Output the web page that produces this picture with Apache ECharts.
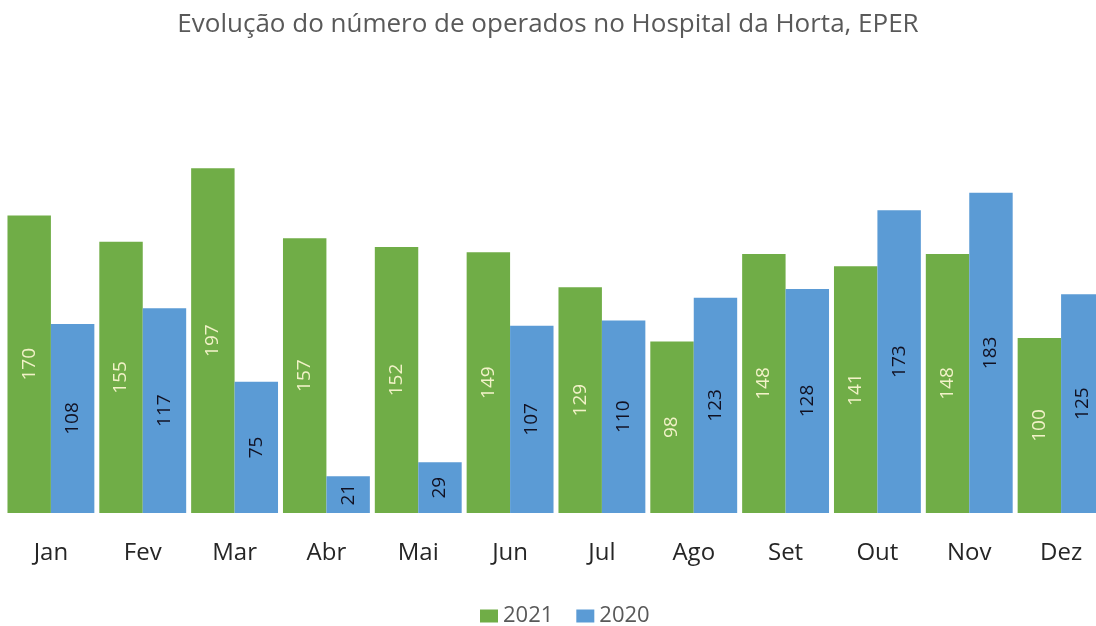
<!DOCTYPE html>
<html>
<head>
<meta charset="utf-8">
<script src="https://cdn.jsdelivr.net/npm/echarts@6/dist/echarts.min.js"></script>
<style>
  html, body { margin: 0; padding: 0; background: #fff; }
  #chart { width: 1096px; height: 626px; }
</style>
</head>
<body>
<div id="chart"></div>
<script>
// months (pt)
var months = ['Jan', 'Fev', 'Mar', 'Abr', 'Mai', 'Jun', 'Jul', 'Ago', 'Set', 'Out', 'Nov', 'Dez'];
var values2021 = [170, 155, 197, 157, 152, 149, 129, 98, 148, 141, 148, 100];
var values2020 = [108, 117, 75, 21, 29, 107, 110, 123, 128, 173, 183, 125];

var chartDom = document.getElementById('chart');
var myChart = echarts.init(chartDom);
var option;

option = {
    animation: false,
    title: {
        text: 'Evolução do número de operados no Hospital da Horta, EPER',
        left: 'center',
        top: 7,
        textStyle: {
            fontFamily: 'Open Sans',
            fontSize: 26,
            fontWeight: 'normal',
            color: '#595959',
        },
    },
    legend: {
        top: 600,
        left: 475,
        itemWidth: 18,
        itemHeight: 13,
        itemGap: 23,
        icon: 'rect',
        textStyle: {
            fontFamily: 'Open Sans',
            fontSize: 22,
            color: '#595959',
        },
        data: ['2021', '2020'],
    },
    grid: {
        left: 5,
        width: 1102,
        top: 163,
        bottom: 113,
        containLabel: false,
        outerBoundsMode: 'none',
    },
    xAxis: {
        type: 'category',
        data: months,
        axisLine: { show: false },
        axisTick: { show: false },
        axisLabel: {
            margin: 28,
            fontFamily: 'Open Sans',
            fontSize: 24,
            color: '#262626',
        },
    },
    yAxis: {
        type: 'value',
        min: 0,
        max: 200,
        show: false,
        splitLine: { show: false },
    },
    series: [
        {
            name: '2021',
            type: 'bar',
            data: values2021,
            barGap: 0,
            barCategoryGap: '5.4%',
            itemStyle: { color: '#70AD47' },
            label: {
                show: true,
                position: 'inside',
                rotate: 90,
                fontFamily: 'Open Sans',
                fontSize: 19,
                color: '#F2F2C8',
            },
        },
        {
            name: '2020',
            type: 'bar',
            data: values2020,
            barGap: 0,
            barCategoryGap: '5.4%',
            itemStyle: { color: '#5B9BD5' },
            label: {
                show: true,
                position: 'inside',
                rotate: 90,
                fontFamily: 'Open Sans',
                fontSize: 19,
                color: '#111122',
            },
        },
    ],
};

option && myChart.setOption(option);
</script>
</body>
</html>
